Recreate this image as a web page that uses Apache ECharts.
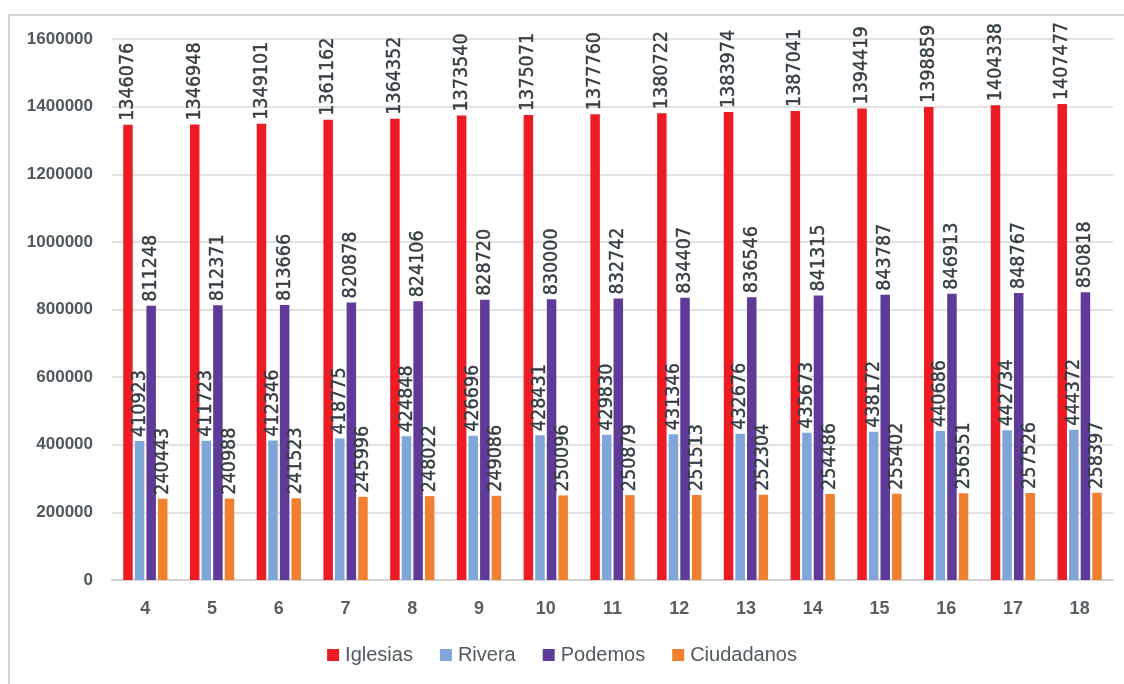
<!DOCTYPE html>
<html>
<head>
<meta charset="utf-8">
<script src="https://cdn.jsdelivr.net/npm/echarts@6/dist/echarts.min.js"></script>
<style>html,body{margin:0;padding:0;background:#fff}#c{width:1124px;height:684px}</style>
</head>
<body>
<div id="c"></div>
<script>
const categories = ['4','5','6','7','8','9','10','11','12','13','14','15','16','17','18'];
const iglesias = [1346076,1346948,1349101,1361162,1364352,1373540,1375071,1377760,1380722,1383974,1387041,1394419,1398859,1404338,1407477];
const rivera = [410923,411723,412346,418775,424848,426696,428431,429830,431346,432676,435673,438172,440686,442734,444372];
const podemos = [811248,812371,813666,820878,824106,828720,830000,832742,834407,836546,841315,843787,846913,848767,850818];
const ciudadanos = [240443,240988,241523,245996,248022,249086,250096,250879,251513,252304,254486,255402,256551,257526,258397];
const yTicks = [0,200000,400000,600000,800000,1000000,1200000,1400000,1600000];

const labelStyle = {
  show: true, position: 'top', rotate: 90, align: 'left', verticalAlign: 'middle',
  distance: 4, color: '#333d42', fontSize: 19.5,
  textBorderColor: '#333d42', textBorderWidth: 0.4,
  fontFamily: '"Liberation Sans Narrow", "DejaVu Sans Condensed", sans-serif'
};
function mk(name, data, color) {
  return { name, type: 'bar', data, barWidth: 9.5, barGap: '22%',
    itemStyle: { color }, label: labelStyle };
}
const chart = echarts.init(document.getElementById('c'));
chart.setOption({
  animation: false,
  textStyle: { fontFamily: '"Liberation Sans", Arial, sans-serif' },
  grid: { left: 112, right: 11, top: 39, bottom: 104 },
  legend: {
    bottom: 14, left: 'center', itemWidth: 12, itemHeight: 12, itemGap: 27,
    icon: 'rect',
    textStyle: { fontSize: 20, color: '#505a5f', padding: [0,0,0,1] },
    data: ['Iglesias','Rivera','Podemos','Ciudadanos']
  },
  xAxis: {
    type: 'category', data: categories,
    axisLine: { lineStyle: { color: '#d4d4d4', width: 2 } },
    axisTick: { show: false },
    axisLabel: { fontSize: 18, fontWeight: 'bold', color: '#595f63', margin: 20 }
  },
  yAxis: {
    type: 'value', min: yTicks[0], max: yTicks[yTicks.length-1], interval: 200000,
    axisLine: { show: false }, axisTick: { show: false },
    splitLine: { lineStyle: { color: '#d9d9d9', width: 1.5 } },
    axisLabel: { fontSize: 17, fontWeight: 'bold', color: '#4f585c', margin: 19,
      formatter: v => String(v) }
  },
  graphic: [
    { type: 'line', shape: { x1: 8, y1: 15, x2: 1124, y2: 15 }, style: { stroke: '#d4d4d4', lineWidth: 2 } },
    { type: 'line', shape: { x1: 9, y1: 15, x2: 9, y2: 684 }, style: { stroke: '#d4d4d4', lineWidth: 2 } }
  ],
  series: [
    mk('Iglesias', iglesias, '#ed1c24'),
    mk('Rivera', rivera, '#7ea6d8'),
    mk('Podemos', podemos, '#5f3a98'),
    mk('Ciudadanos', ciudadanos, '#f08030')
  ]
});
</script>
</body>
</html>
